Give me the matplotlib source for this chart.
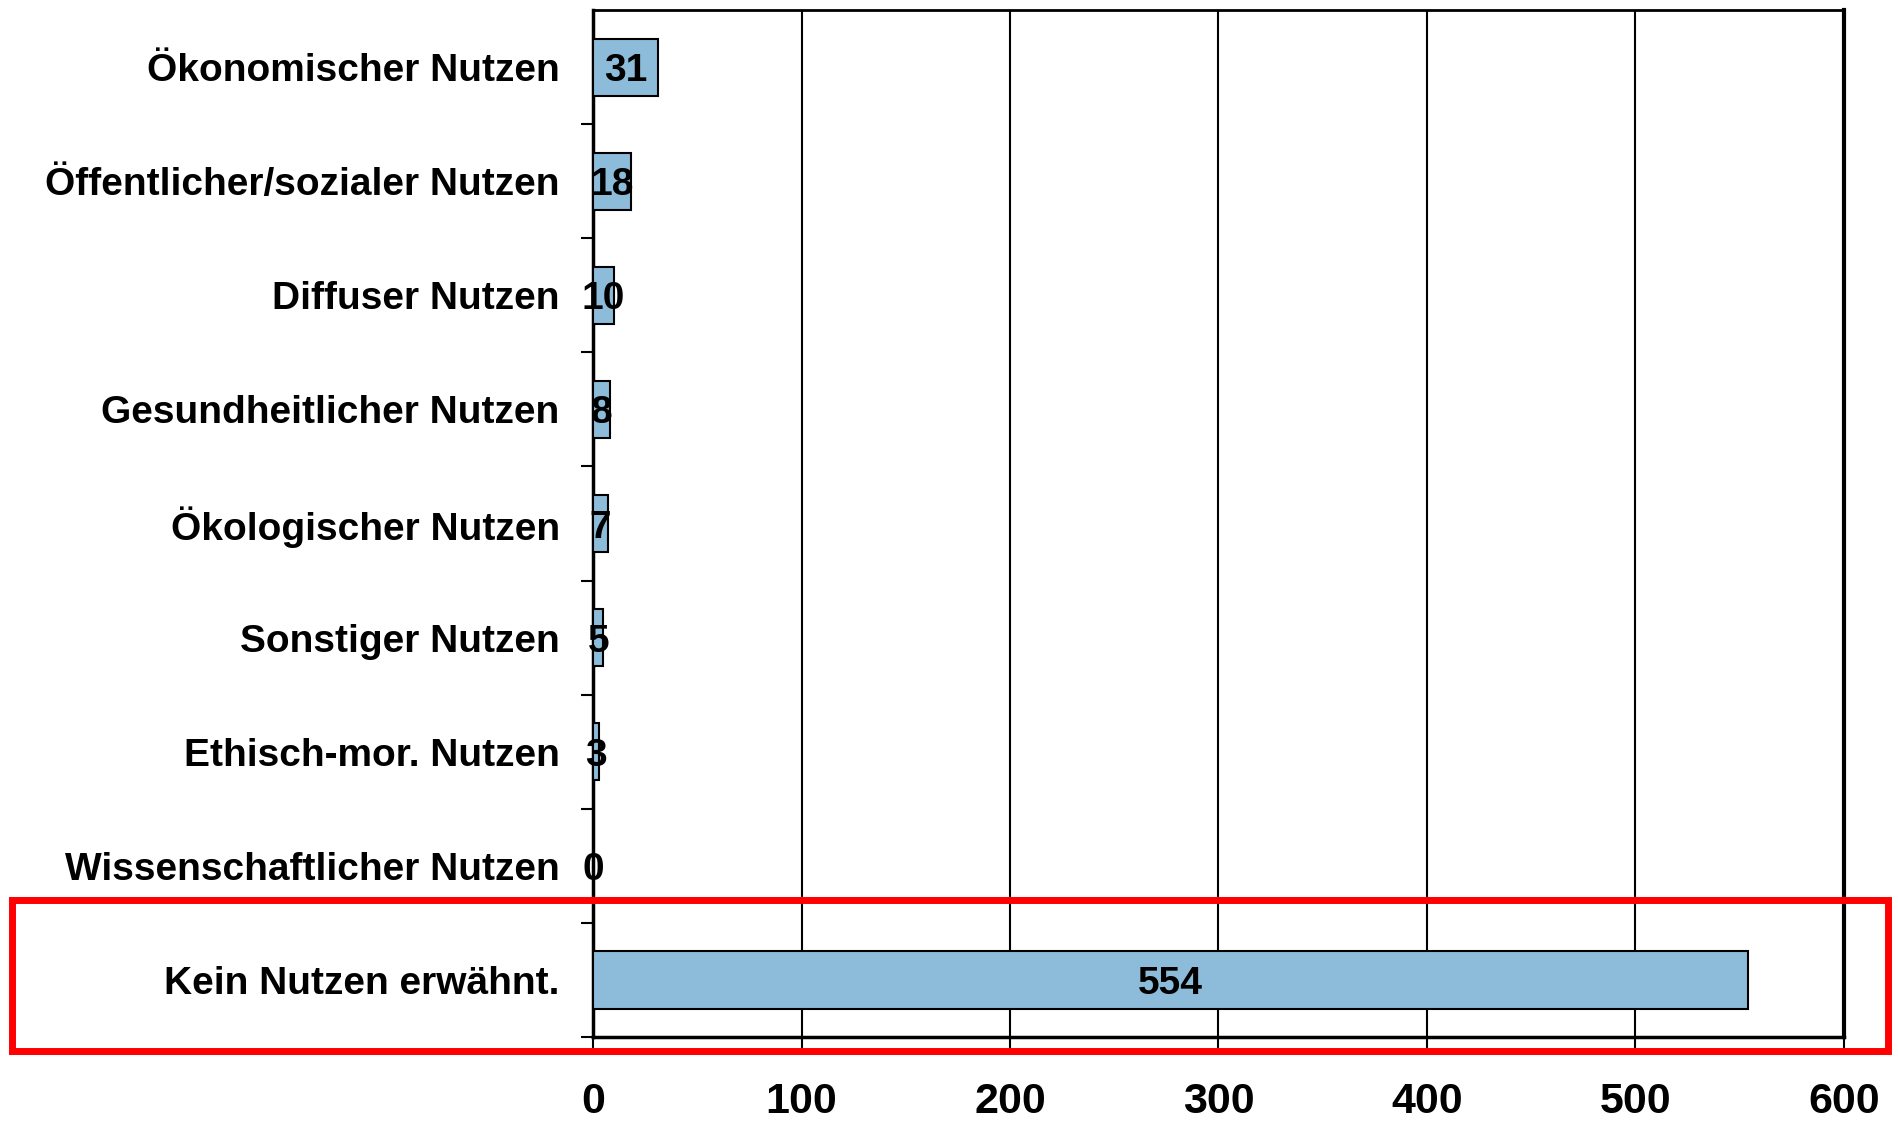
import matplotlib
matplotlib.use("Agg")
import matplotlib.pyplot as plt
import matplotlib.transforms as mtransforms
from matplotlib.patches import Rectangle

# Daten
kategorien = [
    "Ökonomischer Nutzen",
    "Öffentlicher/sozialer Nutzen",
    "Diffuser Nutzen",
    "Gesundheitlicher Nutzen",
    "Ökologischer Nutzen",
    "Sonstiger Nutzen",
    "Ethisch-mor. Nutzen",
    "Wissenschaftlicher Nutzen",
    "Kein Nutzen erwähnt.",
]
anzahl = [31, 18, 10, 8, 7, 5, 3, 0, 554]
x_ticks = [0, 100, 200, 300, 400, 500, 600]

plt.rcParams["font.family"] = ["Liberation Sans", "DejaVu Sans"]
plt.rcParams["font.weight"] = "bold"

fig = plt.figure(figsize=(18.99, 11.22), dpi=100)
ax = fig.add_axes([0.3123, 0.0757, 0.9710 - 0.3123, 0.9911 - 0.0757])

pos = list(range(len(kategorien)))[::-1]  # erste Kategorie oben
ax.barh(pos, anzahl, height=0.5, color="#8CBCDA", edgecolor="black",
        linewidth=1.5, zorder=3)

for p, v in zip(pos, anzahl):
    ax.text(v / 2, p, str(v), ha="center", va="center_baseline",
            fontsize=28, fontweight="bold", zorder=4)

ax.set_xlim(0, 600)
ax.set_ylim(-0.5, len(kategorien) - 0.5)
ax.set_xticks(x_ticks)
ax.set_xticklabels([str(t) for t in x_ticks], fontsize=31, fontweight="bold")
ax.tick_params(axis="x", length=8, width=1.5, pad=24, direction="out")

ax.set_yticks(pos)
ax.set_yticklabels(kategorien, fontsize=28, fontweight="bold")
ax.tick_params(axis="y", which="major", length=0, pad=24)
ax.set_yticks([p - 0.5 for p in pos], minor=True)
ax.tick_params(axis="y", which="minor", length=8.5, width=1.5, direction="out")

ax.xaxis.grid(True, color="black", linewidth=1.5, zorder=0)
ax.set_axisbelow(True)

ax.spines["left"].set_linewidth(2.5)
ax.spines["bottom"].set_linewidth(2.5)
ax.spines["right"].set_linewidth(3)
ax.spines["top"].set_linewidth(2)

# roter Rahmen um "Kein Nutzen erwähnt."
trans = mtransforms.blended_transform_factory(fig.transFigure, ax.transData)
rahmen = Rectangle((0.0065, -0.62), 0.9875, 1.32, transform=trans,
                   fill=False, edgecolor="#FF0000", linewidth=5,
                   clip_on=False, zorder=5)
fig.patches.append(rahmen)

fig.savefig("out.png", dpi=100)
